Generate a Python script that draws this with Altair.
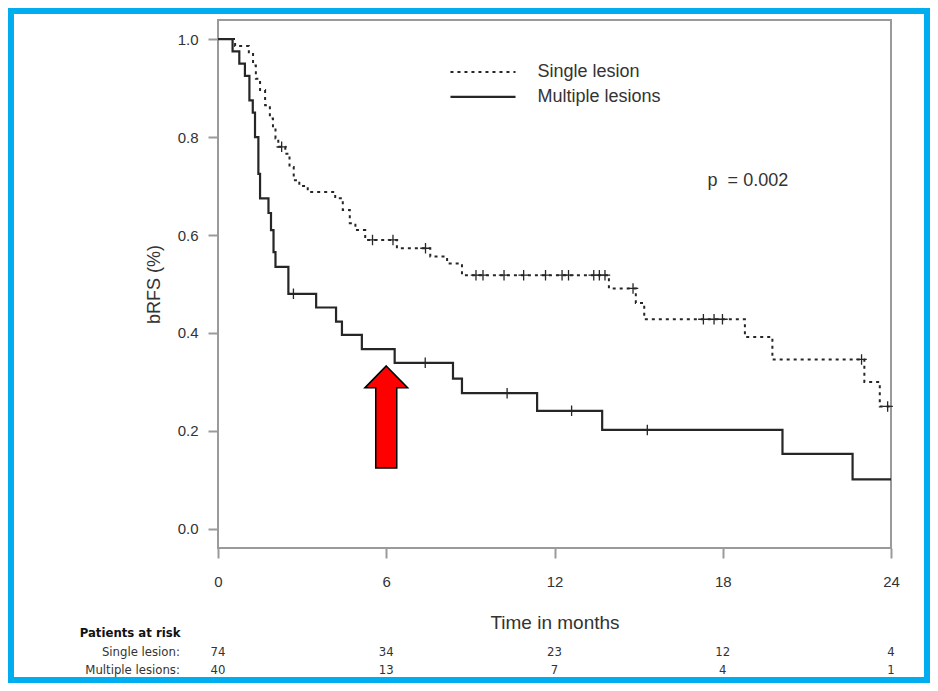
import altair as alt
import pandas as pd

# ---------------- data ----------------
series_names = ["Single lesion", "Multiple lesions"]

single_t = [0, 0.61, 1.10, 1.25, 1.35, 1.50, 1.68, 1.85, 1.96, 2.05,
            2.15, 2.40, 2.55, 2.70, 2.90, 3.20, 4.18, 4.45, 4.70, 4.90,
            5.25, 6.38, 7.57, 8.17, 8.70, 13.94, 14.90, 15.20, 18.79, 19.77,
            23.05, 23.60, 24]
single_s = [1.0, 0.986, 0.973, 0.946, 0.919, 0.896, 0.865, 0.838, 0.818, 0.797,
            0.780, 0.766, 0.739, 0.712, 0.700, 0.688, 0.675, 0.651, 0.624, 0.610,
            0.590, 0.573, 0.556, 0.542, 0.518, 0.491, 0.461, 0.428, 0.392, 0.346,
            0.300, 0.250, 0.250]

multi_t = [0, 0.52, 0.76, 0.96, 1.12, 1.24, 1.32, 1.44, 1.50, 1.80,
           1.89, 1.98, 2.05, 2.51, 3.50, 4.21, 4.42, 5.13, 6.30, 8.38,
           8.70, 11.38, 13.70, 20.13, 22.63, 24]
multi_s = [1.0, 0.975, 0.95, 0.925, 0.875, 0.85, 0.80, 0.725, 0.675, 0.645,
           0.61, 0.565, 0.535, 0.48, 0.452, 0.423, 0.396, 0.367, 0.339, 0.307,
           0.277, 0.241, 0.202, 0.153, 0.101, 0.101]

single_cens_t = [2.27, 5.51, 6.24, 7.40, 9.20, 9.45, 10.20, 10.90, 11.68, 12.27,
                 12.50, 13.40, 13.60, 13.80, 14.80, 17.31, 17.69, 17.99, 22.95, 23.88]
single_cens_s = [0.780, 0.590, 0.590, 0.573, 0.518, 0.518, 0.518, 0.518, 0.518, 0.518,
                 0.518, 0.518, 0.518, 0.518, 0.491, 0.428, 0.428, 0.428, 0.346, 0.250]

multi_cens_t = [2.69, 7.39, 10.31, 12.61, 15.31]
multi_cens_s = [0.48, 0.339, 0.277, 0.241, 0.202]

x_ticks = [0, 6, 12, 18, 24]
y_ticks = [0.0, 0.2, 0.4, 0.6, 0.8, 1.0]

risk_times = [0, 6, 12, 18, 24]
risk_single = [74, 34, 23, 12, 4]
risk_multi = [40, 13, 7, 4, 1]
risk_header = "Patients at risk"
risk_row_labels = ["Single lesion:", "Multiple lesions:"]

p_text = "p\u00a0\u00a0= 0.002"

# ---------------- layout / style constants ----------------
FONT = "Liberation Sans, Arial, Helvetica, sans-serif"
NARROW = "Liberation Sans Narrow, Arial Narrow, DejaVu Sans Condensed, sans-serif"
INK = "#333333"
LINE = "#262626"
GRAY = "#9a9a9a"
BLUE = "#00AEEF"

leg_x0, leg_x1, leg_text_x = 8.29, 10.61, 11.39
leg_y = [0.933, 0.882]
p_pos = (17.46, 0.710)
arrow_pos = (6.0, 0.2286)
risk_label_x = -1.36
risk_header_x = -4.93
risk_header_y = -0.212
risk_rows_y = [-0.252, -0.288]

# ---------------- shared encodings ----------------
X = alt.X(
    "t:Q",
    scale=alt.Scale(domain=[0, 24], nice=False, zero=False),
    axis=alt.Axis(values=x_ticks, title="Time in months", format="d", grid=False,
                  domain=False, tickSize=10, tickColor=GRAY, tickWidth=2,
                  labelFlush=False,
                  labelFontSize=15, labelPadding=16, labelColor=INK, labelFont=FONT,
                  titleFont=FONT, titleFontSize=19, titleFontWeight="normal",
                  titleColor=INK, titlePadding=24),
)
Y = alt.Y(
    "s:Q",
    scale=alt.Scale(domain=[-0.039, 1.039], nice=False, zero=False),
    axis=alt.Axis(values=y_ticks, title="bRFS (%)", format=".1f", grid=False,
                  domain=False, tickSize=10, tickColor=GRAY, tickWidth=2,
                  labelFlush=False,
                  labelFontSize=15, labelPadding=10, labelColor=INK, labelFont=FONT,
                  titleFont=FONT, titleFontSize=18, titleFontWeight="normal",
                  titleColor=INK, titlePadding=14),
)

df_single = pd.DataFrame({"t": single_t, "s": single_s})
df_multi = pd.DataFrame({"t": multi_t, "s": multi_s})
df_sc = pd.DataFrame({"t": single_cens_t, "s": single_cens_s})
df_mc = pd.DataFrame({"t": multi_cens_t, "s": multi_cens_s})

CROSS = "M-1,0L1,0M0,-1L0,1"

frame = alt.Chart(pd.DataFrame({"a": [0]})).mark_rect(
    fillOpacity=0, stroke=BLUE, strokeWidth=6
).encode(x=alt.value(-207), x2=alt.value(709), y=alt.value(-9), y2=alt.value(660))

single_line = alt.Chart(df_single).mark_line(
    interpolate="step-after", color=LINE, strokeWidth=2, strokeDash=[3, 4]
).encode(x=X, y=Y)
multi_line = alt.Chart(df_multi).mark_line(
    interpolate="step-after", color=LINE, strokeWidth=2.2
).encode(x=X, y=Y)

single_cens = alt.Chart(df_sc).mark_point(
    shape=CROSS, size=110, filled=False, color=LINE, strokeWidth=1.3, opacity=1
).encode(x=X, y=Y)
multi_cens = alt.Chart(df_mc).mark_point(
    shape=CROSS, size=110, filled=False, color=LINE, strokeWidth=1.3, opacity=1
).encode(x=X, y=Y)

# legend (drawn manually)
df_leg = pd.DataFrame({"label": series_names, "t": [leg_x0, leg_x0],
                       "t2": [leg_x1, leg_x1], "s": leg_y})
leg_single = alt.Chart(df_leg.iloc[[0]]).mark_rule(
    color=LINE, strokeWidth=2, strokeDash=[3, 4]
).encode(x=X, x2="t2:Q", y=Y)
leg_multi = alt.Chart(df_leg.iloc[[1]]).mark_rule(
    color=LINE, strokeWidth=2.2
).encode(x=X, x2="t2:Q", y=Y)
df_leg_text = pd.DataFrame({"label": series_names, "t": [leg_text_x, leg_text_x], "s": leg_y})
leg_text = alt.Chart(df_leg_text).mark_text(
    align="left", baseline="middle", font=FONT, fontSize=18, color=INK
).encode(x=X, y=Y, text="label:N")

p_layer = alt.Chart(pd.DataFrame({"label": [p_text], "t": [p_pos[0]], "s": [p_pos[1]]})).mark_text(
    align="left", baseline="middle", font=FONT, fontSize=18, color=INK
).encode(x=X, y=Y, text="label:N")

ARROW = "M0,-1L0.42,-0.57L0.206,-0.57L0.206,1L-0.206,1L-0.206,-0.57L-0.42,-0.57Z"
arrow = alt.Chart(pd.DataFrame({"t": [arrow_pos[0]], "s": [arrow_pos[1]]})).mark_point(
    shape=ARROW, size=10404, filled=True, color="#ff0000", fill="#ff0000",
    stroke="#000000", strokeWidth=1.5, opacity=1
).encode(x=X, y=Y)

# risk table
risk_rows = []
for tt, n in zip(risk_times, risk_single):
    risk_rows.append({"t": tt, "s": risk_rows_y[0], "label": str(n)})
for tt, n in zip(risk_times, risk_multi):
    risk_rows.append({"t": tt, "s": risk_rows_y[1], "label": str(n)})
risk_nums = alt.Chart(pd.DataFrame(risk_rows)).mark_text(
    align="center", baseline="middle", font=NARROW, fontSize=13, color=INK
).encode(x=X, y=Y, text="label:N")
risk_lab = alt.Chart(pd.DataFrame({"label": risk_row_labels,
                                   "t": [risk_label_x, risk_label_x],
                                   "s": risk_rows_y})).mark_text(
    align="right", baseline="middle", font=NARROW, fontSize=13, color=INK
).encode(x=X, y=Y, text="label:N")
risk_head = alt.Chart(pd.DataFrame({"label": [risk_header], "t": [risk_header_x],
                                    "s": [risk_header_y]})).mark_text(
    align="left", baseline="middle", font=NARROW, fontSize=13, fontWeight="bold", color="#111111"
).encode(x=X, y=Y, text="label:N")

chart = alt.layer(
    frame, single_line, multi_line, single_cens, multi_cens,
    leg_single, leg_multi, leg_text, p_layer, arrow,
    risk_nums, risk_lab, risk_head,
).properties(
    width=673, height=528,
    padding={"left": 210, "top": 12, "right": 39, "bottom": 135},
    autosize=alt.AutoSizeParams(type="none"),
    background="white",
).configure_view(stroke=GRAY, strokeWidth=2)

chart.save("out.html", embed_options={"renderer": "svg", "actions": False})
